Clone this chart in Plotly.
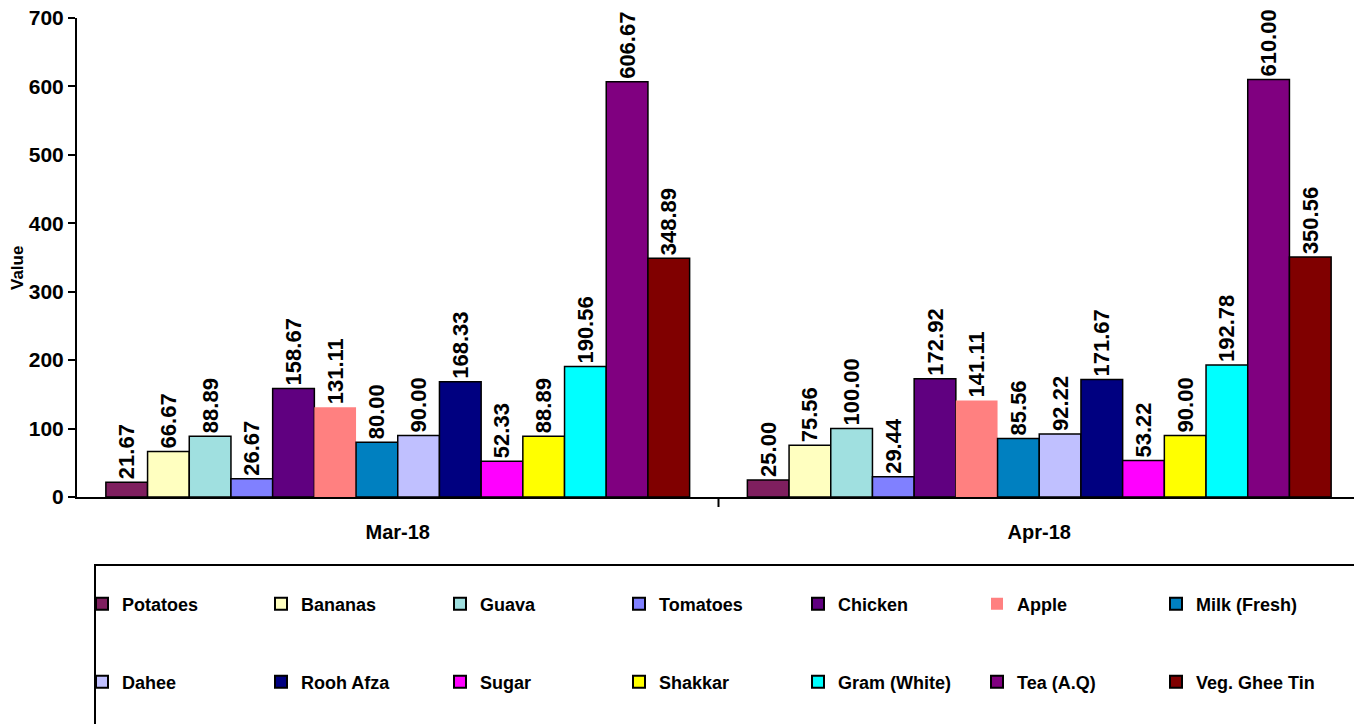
import plotly.graph_objects as go

months = ["Mar-18", "Apr-18"]
items = ["Potatoes", "Bananas", "Guava", "Tomatoes", "Chicken", "Apple", "Milk (Fresh)",
         "Dahee", "Rooh Afza", "Sugar", "Shakkar", "Gram (White)", "Tea (A.Q)", "Veg. Ghee Tin"]
mar_values = [21.67, 66.67, 88.89, 26.67, 158.67, 131.11, 80.00,
              90.00, 168.33, 52.33, 88.89, 190.56, 606.67, 348.89]
apr_values = [25.00, 75.56, 100.00, 29.44, 172.92, 141.11, 85.56,
              92.22, 171.67, 53.22, 90.00, 192.78, 610.00, 350.56]
colors = ["#7F1F5F", "#FFFFC0", "#A0E0E0", "#8080FF", "#600080", "#FF8080", "#0080C0",
          "#C0C0FF", "#000080", "#FF00FF", "#FFFF00", "#00FFFF", "#800080", "#800000"]
y_ticks = [0, 100, 200, 300, 400, 500, 600, 700]

FONT = "Liberation Sans, Arial, sans-serif"

# The page body has an 8px default margin; the figure is sized/offset to compensate.
OFF = 8
FIG_W = 1362 - OFF
FIG_H = 724 - OFF

fig = go.Figure()
for i, name in enumerate(items):
    vals = [mar_values[i], apr_values[i]]
    no_border = name == "Apple"
    fig.add_trace(go.Bar(
        name=name,
        x=months,
        y=vals,
        marker=dict(color=colors[i],
                    line=dict(color="black", width=0 if no_border else 1.5)),
        text=[f"{v:.2f}" for v in vals],
        textposition="outside",
        textangle=-90,
        cliponaxis=False,
        textfont=dict(family=FONT, size=22, color="black", weight="bold"),
        legend="legend" if i < 7 else "legend2",
    ))

H = 479.0
def py(px):
    return (497 - px) / H

legend_common = dict(
    orientation="h",
    xanchor="left",
    yanchor="middle",
    xref="container",
    yref="container",
    x=(74 / FIG_W),
    entrywidth=134,
    entrywidthmode="pixels",
    font=dict(family=FONT, size=18, color="black", weight="bold"),
    bgcolor="rgba(0,0,0,0)",
    borderwidth=0,
    itemsizing="constant",
)

fig.update_layout(
    width=FIG_W,
    height=FIG_H,
    margin=dict(l=77 - OFF, r=2, t=18 - OFF, b=227),
    paper_bgcolor="white",
    plot_bgcolor="white",
    barmode="group",
    bargap=0.09,
    bargroupgap=0,
    uniformtext=dict(mode="show", minsize=22),
    showlegend=True,
    legend=dict(**legend_common, y=1 - (604 - OFF) / FIG_H),
    legend2=dict(**legend_common, y=1 - (682 - OFF) / FIG_H),
    xaxis=dict(
        showline=True, linecolor="black", linewidth=2,
        ticks="", showgrid=False, automargin=False,
        tickfont=dict(family=FONT, size=20, color="black", weight="bold"),
        ticklabelstandoff=16,
    ),
    yaxis=dict(
        range=[0, 700],
        tickvals=y_ticks,
        showline=True, linecolor="black", linewidth=2,
        ticks="outside", ticklen=7, tickwidth=2, tickcolor="black",
        showgrid=False, zeroline=False, automargin=False,
        ticklabelstandoff=0,
        ticklabeloverflow="allow",
        tickfont=dict(family=FONT, size=21, color="black", weight="bold"),
    ),
    shapes=[
        dict(type="rect", xref="paper", yref="paper",
             x0=(95 - 77) / 1283, x1=(1356 - 77) / 1283,
             y0=py(565), y1=py(730),
             line=dict(color="black", width=2), fillcolor="rgba(0,0,0,0)", layer="below"),
        dict(type="line", xref="paper", yref="paper",
             x0=0.5, x1=0.5, y0=0, y1=-10 / H,
             line=dict(color="black", width=2)),
        dict(type="line", xref="paper", yref="paper",
             x0=0.999, x1=0.999, y0=0, y1=-10 / H,
             line=dict(color="black", width=2)),
    ],
    annotations=[
        dict(text="Value", xref="paper", yref="paper", x=0, y=py(268),
             xanchor="center", yanchor="middle", xshift=-60, textangle=-90,
             showarrow=False,
             font=dict(family=FONT, size=17, color="black", weight="bold")),
    ],
)

fig.write_html("out.html")
